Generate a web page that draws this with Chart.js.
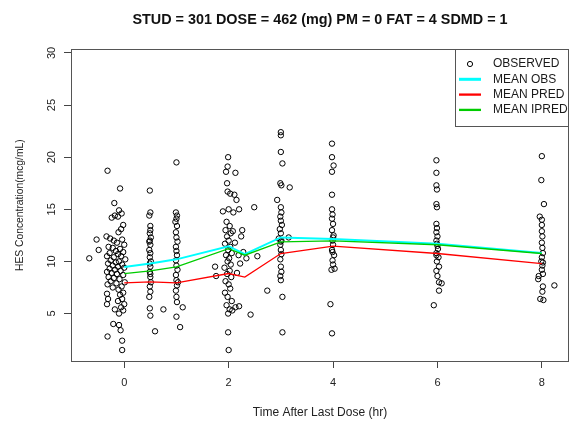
<!DOCTYPE html>
<html>
<head>
<meta charset="utf-8">
<script src="https://cdn.jsdelivr.net/npm/chart.js@4.4.1/dist/chart.umd.min.js"></script>
<style>
  html, body { margin: 0; padding: 0; background: #fff; }
  canvas { display: block; }
</style>
</head>
<body>
<canvas id="hesChart" width="574" height="426"></canvas>
<script>
// observed concentrations, time is jittered like in the original plot
const obsTime = [
  -0.32, -0.08, -0.19, -0.10, -0.05, -0.18, -0.24, -0.12, -0.02, -0.06, -0.11, -0.53, -0.49, -0.67,
  -0.34, -0.27, -0.20, -0.04, -0.14, 0.00, -0.30, -0.22, -0.08, -0.16, -0.02, -0.28, -0.12, -0.33,
  -0.06, -0.20, 0.02, -0.26, -0.10, -0.16, -0.31, -0.04, -0.22, -0.12, 0.00, -0.28, -0.18, -0.07,
  -0.33, -0.24, -0.14, -0.02, -0.30, -0.20, -0.09, -0.26, 0.01, -0.15, -0.32, -0.05, -0.22, -0.11,
  -0.02, -0.33, -0.08, -0.31, -0.04, -0.12, -0.33, 0.00, -0.06, -0.18, -0.02, -0.10, -0.21, -0.10,
  -0.07, -0.32, -0.04, -0.04,
  0.49, 0.50, 0.48, 0.50, 0.49, 0.51, 0.49, 0.50, 0.48, 0.50, 0.49, 0.51, 0.50, 0.49, 0.50, 0.51,
  0.49, 0.50, 0.48, 0.49, 0.50, 0.59, 0.75, 0.50, 0.49, 0.50, 0.48,
  1.00, 0.99, 1.01, 1.00, 0.98, 1.01, 0.99, 1.00, 1.02, 0.99, 1.00, 1.01, 0.99, 1.00, 1.02, 0.99,
  1.00, 1.01, 0.99, 1.00, 1.01, 1.00, 1.07, 1.12, 1.03,
  1.99, 1.98, 1.95, 2.13, 1.97, 1.98, 2.03, 2.11, 2.15, 1.89, 2.00, 2.09, 2.20, 2.49, 1.96, 2.02,
  1.94, 2.04, 2.26, 2.24, 1.97, 2.00, 1.93, 2.03, 1.99, 2.06, 1.95, 2.01, 2.19, 2.28, 1.98, 2.04,
  1.92, 2.02, 1.97, 2.05, 1.94, 2.00, 2.03, 1.93, 1.98, 2.06, 1.96, 2.02, 1.99, 2.13, 2.20, 2.07,
  2.42, 1.74, 1.76, 2.34, 2.22, 2.16, 2.55, 1.99, 2.00, 2.12, 2.08,
  3.00, 3.00, 3.00, 3.03, 2.99, 3.01, 3.17, 2.93, 3.00, 3.01, 2.99, 3.00, 3.02, 2.98, 3.00, 3.15,
  3.01, 2.99, 3.00, 3.01, 2.99, 3.00, 3.01, 2.99, 3.00, 3.03, 2.74, 3.03, 3.00, 2.96,
  3.98, 3.98, 4.01, 3.98, 3.98, 3.98, 3.99, 3.98, 4.00, 3.98, 4.01, 3.99, 4.00, 3.98, 4.02, 3.99,
  4.00, 3.97, 4.03, 3.95, 3.98, 4.00, 3.99,
  5.98, 5.98, 5.98, 5.99, 5.98, 5.99, 5.98, 5.99, 5.98, 6.00, 5.98, 5.99, 6.01, 5.98, 6.02, 5.99,
  6.03, 5.98, 6.00, 6.03, 6.08, 6.03, 5.93, 6.00, 5.98,
  8.00, 7.99, 8.04, 7.96, 8.00, 8.00, 8.00, 8.01, 8.00, 8.01, 8.02, 8.00, 7.99, 8.01, 8.00, 8.02,
  7.93, 8.02, 8.01, 7.97, 8.03, 8.24, 7.94, 8.02
];
const obsConc = [
  18.7, 17.0, 15.6, 14.9, 14.6, 14.4, 14.2, 14.3, 13.5, 13.1, 12.8, 12.1, 11.1, 10.3,
  12.4, 12.2, 12.0, 12.1, 11.8, 11.6, 11.4, 11.3, 11.2, 11.0, 10.9, 10.8, 10.7, 10.5,
  10.5, 10.4, 10.2, 10.1, 10.0, 9.9, 9.8, 9.7, 9.6, 9.5, 9.4, 9.3, 9.2, 9.1,
  9.0, 8.9, 8.8, 8.7, 8.5, 8.4, 8.3, 8.1, 8.0, 7.9, 7.8, 7.6, 7.5, 7.3,
  7.0, 6.9, 6.8, 6.4, 6.4, 6.2, 5.9, 5.9, 5.6, 5.4, 5.3, 5.0, 4.0, 3.9,
  3.4, 2.8, 2.4, 1.5,
  16.8, 14.7, 14.4, 13.0, 12.7, 12.3, 12.0, 11.6, 11.1, 10.8, 10.4, 10.0, 9.5, 9.0, 8.5, 8.0,
  7.6, 7.1, 6.6, 5.5, 4.8, 3.3, 5.4, 13.4, 9.8, 8.8, 11.9,
  19.5, 14.7, 14.4, 14.1, 13.8, 13.4, 12.8, 12.3, 11.9, 11.4, 11.0, 10.6, 10.1, 9.6, 9.2, 8.7,
  8.2, 7.7, 7.2, 6.6, 6.1, 4.7, 3.7, 5.6, 8.0,
  20.0, 19.1, 18.6, 18.5, 17.5, 16.7, 16.5, 16.4, 15.9, 14.8, 15.0, 14.7, 15.0, 15.2, 13.8, 13.4,
  13.0, 12.7, 13.0, 12.4, 12.4, 12.0, 11.7, 11.4, 11.1, 10.8, 10.6, 10.3, 10.6, 10.9, 10.0, 9.7,
  9.4, 9.1, 8.8, 8.5, 8.1, 7.8, 7.4, 7.0, 6.6, 6.2, 5.8, 5.4, 5.0, 5.6, 5.7, 5.3,
  4.9, 9.5, 8.6, 10.3, 9.8, 8.9, 10.5, 3.2, 1.5, 11.8, 12.9,
  22.4, 22.1, 20.5, 19.4, 17.5, 17.3, 17.1, 15.9, 15.2, 14.7, 14.3, 13.9, 13.5, 13.1, 12.7, 12.3,
  12.0, 11.6, 11.1, 10.7, 10.2, 9.5, 9.0, 8.6, 8.2, 6.6, 7.2, 3.2, 11.9, 12.2,
  21.3, 20.0, 19.2, 18.6, 16.4, 15.0, 14.5, 14.1, 13.6, 13.0, 12.5, 12.0, 11.6, 11.1, 10.6, 10.1,
  9.7, 9.2, 9.3, 5.9, 3.1, 12.3, 10.9,
  19.7, 18.5, 17.3, 16.9, 15.5, 15.2, 13.6, 13.2, 12.8, 12.4, 12.0, 11.7, 11.2, 10.8, 10.4, 10.0,
  9.5, 9.1, 8.6, 8.0, 7.9, 7.2, 5.8, 11.5, 10.6,
  20.1, 17.8, 15.5, 14.3, 14.0, 13.5, 12.9, 12.4, 11.8, 11.3, 10.8, 10.4, 10.0, 9.6, 9.2, 8.8,
  8.3, 7.6, 7.1, 6.4, 6.3, 7.7, 8.6, 9.9
];

// binned means
const meanTime  = [0, 0.5, 1, 2, 2.31, 3, 4, 6, 8];
const meanObs   = [9.47, 9.8, 10.2, 11.46, 10.7, 12.3, 12.15, 11.7, 10.8];
const meanPred  = [7.94, 8.03, 7.94, 8.84, 8.5, 10.76, 11.46, 10.76, 9.8];
const meanIpred = [8.84, 9.1, 9.47, 11.23, 10.6, 11.87, 11.97, 11.6, 10.76];

const xTicks = [0, 2, 4, 6, 8];
const yTicks = [5, 10, 15, 20, 25, 30];

const FONT = "'Liberation Sans', Arial, sans-serif";

function pairs(xs, ys) {
  return xs.map((x, i) => ({ x: x, y: ys[i] }));
}

// box around the plot region, like R's bty="o"
const boxPlugin = {
  id: 'plotBox',
  afterDraw(chart) {
    const a = chart.chartArea;
    const ctx = chart.ctx;
    ctx.save();
    ctx.strokeStyle = '#555';
    ctx.lineWidth = 1;
    ctx.strokeRect(Math.round(a.left) + 0.5, Math.round(a.top) + 0.5,
      Math.round(a.right - a.left) - 1, Math.round(a.bottom - a.top));
    ctx.restore();
  }
};

// R-style legend in the top right corner of the plot
const rLegend = {
  id: 'rLegend',
  afterDraw(chart) {
    const a = chart.chartArea;
    const ctx = chart.ctx;
    const w = 114, h = 77;
    const x0 = Math.round(a.right - w), y0 = Math.round(a.top);
    ctx.save();
    ctx.fillStyle = '#fff';
    ctx.fillRect(x0, y0, w, h);
    ctx.strokeStyle = '#555';
    ctx.lineWidth = 1;
    ctx.strokeRect(x0 + 0.5, y0 + 0.5, w - 1, h);
    ctx.font = '12px ' + FONT;
    ctx.textBaseline = 'middle';
    chart.data.datasets.forEach((ds, i) => {
      const y = y0 + 15 + i * 15.3;
      if (ds.showLine === false) {
        ctx.beginPath();
        ctx.arc(x0 + 15, y, 2.6, 0, Math.PI * 2);
        ctx.strokeStyle = ds.borderColor;
        ctx.lineWidth = 1;
        ctx.stroke();
      } else {
        ctx.beginPath();
        ctx.moveTo(x0 + 4, y);
        ctx.lineTo(x0 + 26, y);
        ctx.strokeStyle = ds.borderColor;
        ctx.lineWidth = ds.borderWidth + 1;
        ctx.stroke();
      }
      ctx.fillStyle = '#1a1a1a';
      ctx.fillText(ds.label, x0 + 38, y);
    });
    ctx.restore();
  }
};

const ctx = document.getElementById('hesChart').getContext('2d');
new Chart(ctx, {
  type: 'scatter',
  data: {
    datasets: [
      {
        label: 'OBSERVED',
        data: pairs(obsTime, obsConc),
        showLine: false,
        pointStyle: 'circle',
        pointRadius: 2.7,
        pointBorderWidth: 1,
        borderColor: '#000',
        backgroundColor: 'rgba(0,0,0,0)',
        order: 4
      },
      {
        label: 'MEAN OBS',
        data: pairs(meanTime, meanObs),
        showLine: true,
        pointRadius: 0,
        borderColor: '#00FFFF',
        borderWidth: 2,
        order: 3
      },
      {
        label: 'MEAN PRED',
        data: pairs(meanTime, meanPred),
        showLine: true,
        pointRadius: 0,
        borderColor: '#FF0000',
        borderWidth: 1.3,
        order: 1
      },
      {
        label: 'MEAN IPRED',
        data: pairs(meanTime, meanIpred),
        showLine: true,
        pointRadius: 0,
        borderColor: '#00CC00',
        borderWidth: 1.3,
        order: 2
      }
    ]
  },
  options: {
    responsive: false,
    animation: false,
    layout: { padding: { left: 0, right: 5, top: 0, bottom: 0 } },
    plugins: {
      legend: { display: false },
      tooltip: { enabled: false },
      title: {
        display: true,
        text: 'STUD = 301 DOSE = 462 (mg) PM = 0 FAT = 4 SDMD = 1',
        fullSize: false,
        color: '#111',
        font: { family: FONT, size: 14.4, weight: 'bold' },
        padding: { top: 11, bottom: 21 }
      }
    },
    scales: {
      x: {
        type: 'linear',
        min: -1.02,
        max: 8.52,
        afterBuildTicks: s => { s.ticks = xTicks.map(v => ({ value: v })); },
        afterFit: s => { s.height = 65; },
        grid: { drawOnChartArea: false, drawTicks: true, tickLength: 7, color: '#444' },
        border: { display: false },
        ticks: { color: '#222', font: { family: FONT, size: 11 }, padding: 8, maxRotation: 0 },
        title: {
          display: true,
          text: 'Time After Last Dose (hr)',
          color: '#222',
          font: { family: FONT, size: 12 },
          padding: { top: 6, bottom: 6 }
        }
      },
      y: {
        type: 'linear',
        min: 0.45,
        max: 30.35,
        afterBuildTicks: s => { s.ticks = yTicks.map(v => ({ value: v })); },
        afterFit: s => { s.width = 71; },
        grid: { drawOnChartArea: false, drawTicks: true, tickLength: 7, color: '#444' },
        border: { display: false },
        ticks: {
          color: '#222', font: { family: FONT, size: 11 }, padding: 6,
          minRotation: 90, maxRotation: 90, crossAlign: 'center'
        },
        title: {
          display: true,
          text: 'HES Concentration(mcg/mL)',
          color: '#222',
          font: { family: FONT, size: 10.3 },
          padding: { top: 14, bottom: 0 }
        }
      }
    }
  },
  plugins: [boxPlugin, rLegend]
});
</script>
</body>
</html>
